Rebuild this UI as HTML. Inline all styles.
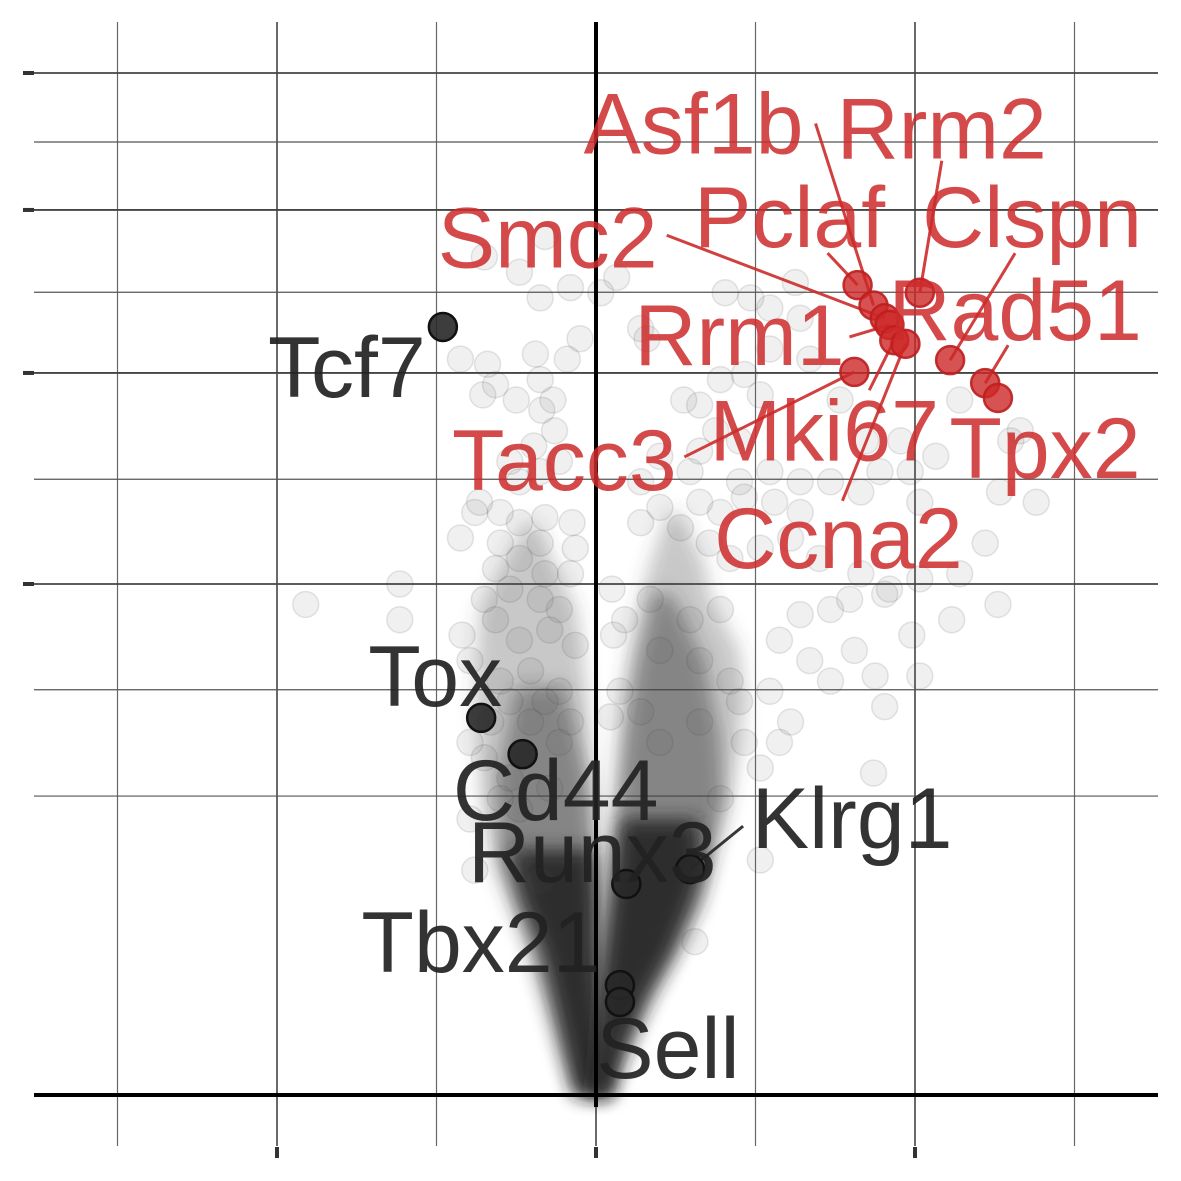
<!DOCTYPE html>
<html><head><meta charset="utf-8">
<style>
html,body{margin:0;padding:0;background:#fff;}
svg{display:block;}
text{font-family:"Liberation Sans",sans-serif;}
</style></head>
<body>
<svg id="chart" width="1181" height="1181" viewBox="0 0 1181 1181" xmlns="http://www.w3.org/2000/svg">
<defs><filter id="blur" x="-30%" y="-30%" width="160%" height="160%"><feGaussianBlur stdDeviation="9"/></filter></defs>
<g id="grid"></g>
<g id="bands"></g>
<g id="bg"></g>
<g id="axes"></g>
<g id="hl"></g>
</svg>
<script>
// scales: x = log2 fold change, y = transformed significance score
const xMajor = [-2, 0, 2];
const xMinor = [-3, -1, 1, 3];
const yMajor = [100, 141.3, 173.2, 200];
const yMinor = [58.5, 79.3, 120.5, 157.1, 186.5];

const bgX = [-0.70,-0.35,-0.32,-0.48,-0.85,-0.68,-0.63,-0.71,-0.50,-0.35,-0.38,-0.34,-0.26,-0.23,-0.35,-0.48,-0.73,-0.76,-0.60,-0.48,-0.32,-0.15,-0.85,-0.60,-0.35,-0.13,-0.63,-0.48,-0.32,-0.16,-0.70,-0.54,-0.35,-0.23,-1.23,-1.23,-0.84,-1.82,-0.63,-0.48,-0.29,-0.13,-0.79,-0.60,-0.41,-0.23,-0.79,-0.70,-0.54,-0.76,-0.41,-0.32,-0.54,-0.66,-0.60,-0.48,-0.29,-0.23,-0.16,-0.48,-0.35,-0.79,-0.16,0.03,0.13,-0.10,-0.18,-0.27,-0.39,-0.54,
0.28,0.32,0.55,0.65,0.78,0.93,1.03,1.09,1.09,0.81,0.97,1.25,1.28,1.34,0.75,0.90,0.59,0.90,1.09,1.28,0.40,0.65,0.78,0.93,1.12,1.28,1.47,1.66,1.78,1.97,2.13,2.03,0.28,0.53,0.71,0.84,1.03,1.22,1.40,1.66,1.84,2.03,2.28,2.44,2.53,2.76,2.66,2.52,2.23,1.98,1.81,1.59,1.47,1.28,1.15,1.34,1.47,1.62,1.75,2.03,1.81,1.09,1.22,0.93,1.03,1.15,0.78,1.03,0.62,1.74,1.53,1.69,1.91,2.28,2.60,0.28,0.40,0.65,0.34,0.11,0.10,0.18,0.59,0.78,0.40,0.65,0.84,0.15,0.28,0.09,0.40,0.65,0.90];
const bgY = [164,156,168,161,144,143,139,137,136,140,145,134,130,124,122,120,116,114,114,112,113,112,109,108,108,107,103,105,102,102,97,99,97,95,100,93,90,96,93,89,91,88,85,81,83,79,69,66,62,44,73,77,77,73,58,56,60,69,73,46,42,54,158,157,160,148,144,136,127,124,
150,148,136,135,140,141,137,146,154,157,156,159,152,144,130,128,122,120,122,120,115,116,114,117,116,114,120,118,122,122,125,116,112,111,108,105,107,109,105,102,99,101,102,108,118,116,130,96,93,90,98,97,95,94,89,85,81,87,82,82,76,79,73,69,64,69,58,46,30,63,136,128,128,136,128,120,125,126,97,90,99,93,93,95,87,85,81,79,75,74,69,73,77];

// density bands: [score, fcLow, fcHigh]
const leftOuter = [[112,-0.45,-0.38],[95,-0.73,-0.12],[77,-0.76,-0.05],[58,-0.72,-0.02],[44,-0.63,0],[28,-0.41,0.01],[9,-0.23,0.02],[0,-0.12,0.05]];
const leftInner = [[80,-0.50,-0.20],[62,-0.62,-0.05],[46,-0.60,0],[30,-0.42,0.01],[10,-0.22,0.02],[0,-0.12,0.05]];
const leftCore = [[48,-0.54,-0.02],[38,-0.46,0.0],[28,-0.33,0.0],[19,-0.26,0.02],[0,-0.13,0.09]];
const rightOuter = [[114,0.45,0.52],[104,0.34,0.68],[97,0.28,0.72],[87,0.21,0.90],[77,0.16,0.93],[68,0.14,0.90],[58,0.12,0.84],[48,0.10,0.74],[38,0.08,0.65],[28,0.05,0.50],[19,0.03,0.34],[7,0.01,0.15],[0,0,0.05]];
const rightInner = [[98,0.36,0.48],[85,0.26,0.68],[70,0.18,0.78],[58,0.14,0.80],[48,0.11,0.74],[38,0.08,0.66],[28,0.05,0.50],[19,0.03,0.34],[0,0,0.06]];
const rightCore = [[54,0.16,0.64],[44,0.12,0.66],[38,0.10,0.60],[28,0.06,0.47],[19,0.03,0.31],[9,0.01,0.18],[0,-0.02,0.09]];

const redGenes = ["Pclaf","Asf1b","Smc2","Rrm1","Rrm2","Mki67","Ccna2","Clspn","Rad51","Tpx2","Tacc3"];
const redX = [1.64,1.74,1.81,1.84,2.03,1.87,1.94,2.22,2.44,2.52,1.62];
const redY = [158.5,154.5,152,150.7,157,147.7,147,143.8,139.3,136.4,141.5];
const blackGenes = ["Tcf7","Tox","Cd44","Runx3","Klrg1","Tbx21","Sell"];
const blackX = [-0.96,-0.72,-0.46,0.19,0.59,0.15,0.15];
const blackY = [150.3,73.8,66.7,41.3,44.2,21.5,18.2];

// label layout (pixel offsets from point): [dx centre, dy baseline, segment start dx, dy or null]
const redLayout = [[-68,-38,-30,-32],[-180,-152,-58,-182],[-337,-51,-218,-83],[-150,40,-40,12],[22,-134,22,-132],[-70,120,-25,50],[-67,224,-63,157],[82,-113,65,-107],[30,-43,23,-38],[47,80,null,null],[-290,118,-170,85]];
const blackLayout = [[-96,70,null,null],[-46,-12,null,null],[33,66,null,null],[-34,-2,null,null],[162,-21,53,-43],[-139,-13,null,null],[48,76,null,null]];

const X0 = 596, XU = 159.5, Y0 = 1095, YU = 5.11;
function sx(v){ return X0 + v*XU; }
function sy(v){ return Y0 - v*YU; }
const NS = "http://www.w3.org/2000/svg";
function mk(tag, parent, attrs){ const e = document.createElementNS(NS, tag); for (const k in attrs) e.setAttribute(k, attrs[k]); parent.appendChild(e); return e; }

const grid = document.getElementById('grid');
xMinor.forEach(v => { const l = mk('line', grid, {x1:sx(v),x2:sx(v),y1:22,y2:1146,stroke:'#666','stroke-width':1.2});
  
   });
xMajor.forEach(v => { const l = mk('line', grid, {x1:sx(v),x2:sx(v),y1:22,y2:1146,stroke:'#444','stroke-width':1.6});
  
   });
yMinor.forEach(v => { const l = mk('line', grid, {x1:34,x2:1158,y1:sy(v),y2:sy(v),stroke:'#555','stroke-width':1.2});
  
   });
yMajor.forEach(v => { const l = mk('line', grid, {x1:34,x2:1158,y1:sy(v),y2:sy(v),stroke:'#444','stroke-width':1.8});
  
   });

const bands = document.getElementById('bands');
function band(arr, fill, op, name){
  const pts = arr.map(r => sx(r[1])+','+sy(r[0])).concat(arr.slice().reverse().map(r => sx(r[2])+','+sy(r[0])));
  const p = mk('polygon', bands, {points:pts.join(' '), fill:fill, 'fill-opacity':op, filter:'url(#blur)'});
  
  
}
band(leftOuter,'#444',0.3,'left-density-outer');
band(rightOuter,'#444',0.3,'right-density-outer');
band(leftInner,'#333',0.45,'left-density-inner');
band(rightInner,'#333',0.45,'right-density-inner');
band(leftCore,'#262626',0.9,'left-density-core');
band(rightCore,'#262626',0.9,'right-density-core');

const bg = document.getElementById('bg');
bgX.forEach((v,i) => { const c = mk('circle', bg, {cx:sx(v),cy:sy(bgY[i]),r:13,fill:'rgba(90,90,90,0.09)',stroke:'rgba(60,60,60,0.13)','stroke-width':1.5});
  
   });

const axes = document.getElementById('axes');
let a = mk('line', axes, {x1:34,x2:1158,y1:sy(0),y2:sy(0),stroke:'#000','stroke-width':4});


a = mk('line', axes, {x1:sx(0),x2:sx(0),y1:22,y2:1107,stroke:'#000','stroke-width':4});


xMajor.forEach(v => { const t = mk('rect', axes, {x:sx(v)-2,y:1147,width:4,height:11,fill:'#333'});
  
   });
yMajor.forEach(v => { const t = mk('rect', axes, {x:23,y:sy(v)-2,width:11,height:4,fill:'#333'});
  
   });

const hl = document.getElementById('hl');
function genes(names, xs, ys, lay, col, fill, stroke, txtOp){
  const lg = mk('g', hl, {}); const pg = mk('g', hl, {}); const tg = mk('g', hl, {});
  names.forEach((n,i) => {
    const px = sx(xs[i]), py = sy(ys[i]), L = lay[i];
    if (L[2] !== null) { const s = mk('line', lg, {x1:px+L[2],y1:py+L[3],x2:px,y2:py,stroke:col,'stroke-width':3,'stroke-opacity':0.9});
      
       }
    const c = mk('circle', pg, {cx:px,cy:py,r:14,fill:fill,stroke:stroke,'stroke-width':2.5});
    
    
    const t = mk('text', tg, {x:px+L[0],y:py+L[1],'text-anchor':'middle','font-size':86,fill:col,'fill-opacity':txtOp});
    t.textContent = n;
    
    
  });
}
genes(blackGenes, blackX, blackY, blackLayout, '#222', 'rgba(40,40,40,0.9)', '#111', 0.92);
genes(redGenes, redX, redY, redLayout, '#cc2a2a', 'rgba(205,40,40,0.8)', 'rgba(190,30,30,0.9)', 0.85);
</script>
</body></html>
